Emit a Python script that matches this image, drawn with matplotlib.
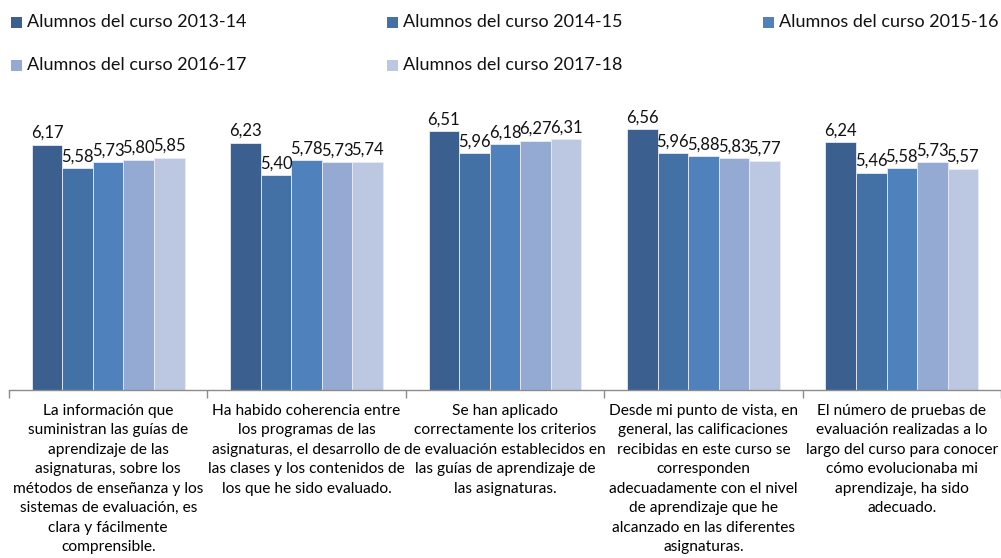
import matplotlib
matplotlib.use("Agg")
import matplotlib.pyplot as plt
import numpy as np
from matplotlib.patches import Rectangle

plt.rcParams['font.family'] = ['Lato', 'DejaVu Sans']

categories = [
    "La información que\nsuministran las guías de\naprendizaje de las\nasignaturas, sobre los\nmétodos de enseñanza y los\nsistemas de evaluación, es\nclara y fácilmente\ncomprensible.",
    "Ha habido coherencia entre\nlos programas de las\nasignaturas, el desarrollo de\nlas clases y los contenidos de\nlos que he sido evaluado.",
    "Se han aplicado\ncorrectamente los criterios\nde evaluación establecidos en\nlas guías de aprendizaje de\nlas asignaturas.",
    "Desde mi punto de vista, en\ngeneral, las calificaciones\nrecibidas en este curso se\ncorresponden\nadecuadamente con el nivel\nde aprendizaje que he\nalcanzado en las diferentes\nasignaturas.",
    "El número de pruebas de\nevaluación realizadas a lo\nlargo del curso para conocer\ncómo evolucionaba mi\naprendizaje, ha sido\nadecuado.",
]
series_names = ["Alumnos del curso 2013-14", "Alumnos del curso 2014-15", "Alumnos del curso 2015-16",
                "Alumnos del curso 2016-17", "Alumnos del curso 2017-18"]
s2013_14 = [6.17, 6.23, 6.51, 6.56, 6.24]
s2014_15 = [5.58, 5.40, 5.96, 5.96, 5.46]
s2015_16 = [5.73, 5.78, 6.18, 5.88, 5.58]
s2016_17 = [5.80, 5.73, 6.27, 5.83, 5.73]
s2017_18 = [5.85, 5.74, 6.31, 5.77, 5.57]
series = [s2013_14, s2014_15, s2015_16, s2016_17, s2017_18]
colors = ["#3B5F8E", "#4371A6", "#4F81BD", "#95AAD2", "#BCC8E2"]

W, H = 1001, 558
fig = plt.figure(figsize=(W/100, H/100), dpi=100)
ax = fig.add_axes([9/W, 1-390/H, 992/W, 290/H])

x = np.arange(len(categories))
bw = 0.154
for i, (vals, c) in enumerate(zip(series, colors)):
    xs = x + (i - 2) * bw
    ax.bar(xs, vals, width=bw, color=c, edgecolor="#E8ECF4", linewidth=0.6, zorder=2)
    for xv, v in zip(xs, vals):
        ax.text(xv, v + 0.1, f"{v:.2f}".replace(".", ","), ha="center", va="bottom",
                fontsize=12, color="#111111")

ax.set_xlim(-0.5, 4.5)
ax.set_ylim(0, 7.3)
ax.set_yticks([])
for s in ["top", "right", "left"]:
    ax.spines[s].set_visible(False)
ax.spines["bottom"].set_color("#8C8C8C")
ax.spines["bottom"].set_linewidth(1.0)
ax.set_xticks(x)
ax.set_xticklabels(categories, fontsize=11.2, linespacing=1.5, va="top")
ax.tick_params(axis="x", which="major", length=0, pad=10)
ax.set_xticks(np.arange(-0.5, 4.6, 1.0), minor=True)
ax.tick_params(axis="x", which="minor", length=6, color="#8C8C8C", width=1.0)

# legend
leg_pos = [(11, 22), (387, 22), (763, 22), (11, 65), (387, 65)]
for (lx, ly), name, c in zip(leg_pos, series_names, colors):
    fig.patches.append(Rectangle((lx/W, 1-(ly+6)/H), 11/W, 11/H, transform=fig.transFigure,
                                 facecolor=c, edgecolor="none"))
    fig.text((lx+16)/W, 1-ly/H, name, fontsize=13, va="center", ha="left", color="#111111")

fig.savefig("out.png", dpi=100)
